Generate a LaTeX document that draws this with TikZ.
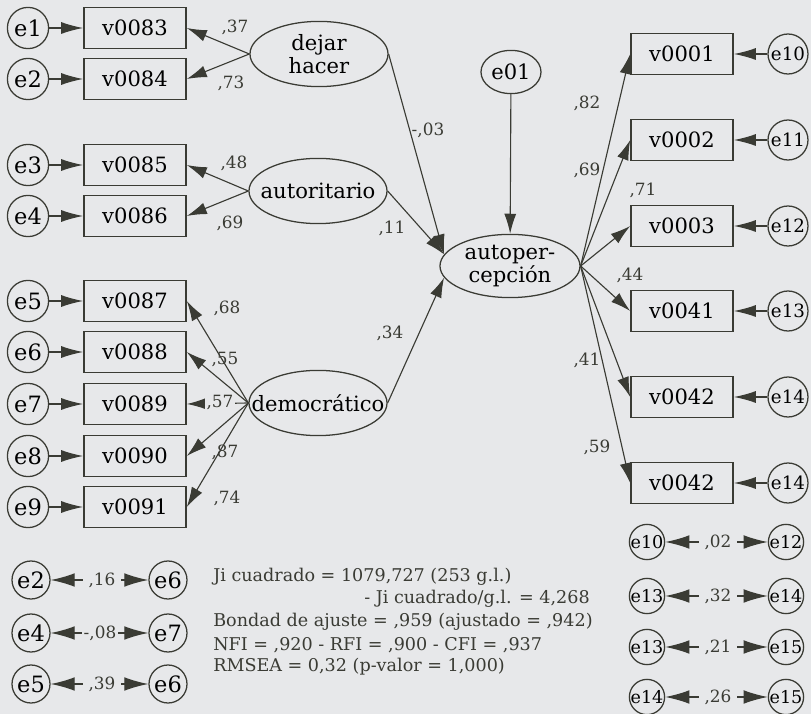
\documentclass[tikz,border=0pt]{standalone}
\usepackage{fontspec}
\setmainfont{DejaVu Serif}
\usetikzlibrary{shapes.geometric, arrows.meta, positioning}
\definecolor{cBg}{RGB}{231,232,234}
\definecolor{cInk}{RGB}{58,59,52}
\tikzset{
	obs/.style    ={rectangle, draw=cInk, line width=1.1pt, minimum width=2.55cm, minimum height=1.03cm, inner sep=0pt, font=\fontsize{15}{16}\selectfont},
	err/.style    ={circle, draw=cInk, line width=0.9pt, minimum size=1.03cm, inner sep=0pt, font=\fontsize{16}{17}\selectfont},
	errr/.style   ={circle, draw=cInk, line width=0.9pt, minimum size=1.0cm, inner sep=0pt, font=\fontsize{13}{14}\selectfont},
	errs/.style   ={circle, draw=cInk, line width=0.9pt, minimum size=0.88cm, inner sep=0pt, font=\fontsize{12.5}{13}\selectfont},
	lat/.style    ={ellipse, draw=cInk, line width=0.9pt, minimum width=3.45cm, minimum height=1.63cm, inner xsep=-1cm, inner ysep=-0.4cm, align=center, font=\fontsize{15}{16}\selectfont},
	coef/.style   ={font=\fontsize{12}{13}\selectfont, text=cInk, inner sep=1pt},
	reg/.style    ={-{Latex[length=5mm,width=3mm]}, draw=cInk, line width=0.8pt},
	errarr/.style ={-{Latex[length=5.5mm,width=3mm]}, draw=cInk, line width=0.9pt},
	covar/.style  ={{Latex[length=6mm,width=3.4mm]}-{Latex[length=6mm,width=3.4mm]}, draw=cInk, line width=0.9pt},
	stat/.style   ={font=\fontsize{12.5}{15}\selectfont, text=cInk, inner sep=0pt},
}
\begin{document}
\begin{tikzpicture}[x=0.025cm, y=-0.025cm]
	\fill[cBg] (0,0) rectangle (811,714);
	\useasboundingbox (0,0) rectangle (811,714);
	% left indicators
	\node[err] (e1) at (28,28) {e1};
	\node[obs] (v83) at (135,28) {v0083};
	\node[err] (e2) at (28,79) {e2};
	\node[obs] (v84) at (135,79) {v0084};
	\node[err] (e3) at (28,165) {e3};
	\node[obs] (v85) at (135,165) {v0085};
	\node[err] (e4) at (28,216) {e4};
	\node[obs] (v86) at (135,216) {v0086};
	\node[err] (e5) at (28,301) {e5};
	\node[obs] (v87) at (135,301) {v0087};
	\node[err] (e6) at (28,352) {e6};
	\node[obs] (v88) at (135,352) {v0088};
	\node[err] (e7) at (28,404) {e7};
	\node[obs] (v89) at (135,404) {v0089};
	\node[err] (e8) at (28,456) {e8};
	\node[obs] (v90) at (135,456) {v0090};
	\node[err] (e9) at (28,507) {e9};
	\node[obs] (v91) at (135,507) {v0091};
	% latent variables
	\node[lat] (dejar) at (319,54) {dejar\\ hacer};
	\node[lat] (autor) at (318,191) {autoritario};
	\node[lat] (democ) at (318,403) {democrático};
	\node[lat, minimum width=3.5cm, minimum height=1.58cm] (autop) at (510,266) {autoper-\\ cepción};
	\node[lat, minimum width=1.5cm, minimum height=1.08cm] (e01) at (511,72) {e01};
	% right indicators
	\node[obs] (v01) at (682,54) {v0001};
	\node[errr] (e10) at (788,54) {e10};
	\node[obs] (v02) at (682,140) {v0002};
	\node[errr] (e11) at (788,140) {e11};
	\node[obs] (v03) at (682,226) {v0003};
	\node[errr] (e12) at (788,226) {e12};
	\node[obs] (v41) at (682,311) {v0041};
	\node[errr] (e13) at (788,311) {e13};
	\node[obs] (v42) at (682,397) {v0042};
	\node[errr] (e14) at (788,397) {e14};
	\node[obs] (v42b) at (682,483) {v0042};
	\node[errr] (e14b) at (788,483) {e14};
	% errors -> indicators
	\draw[errarr] (e1) -- (v83);
	\draw[errarr] (e2) -- (v84);
	\draw[errarr] (e3) -- (v85);
	\draw[errarr] (e4) -- (v86);
	\draw[errarr] (e5) -- (v87);
	\draw[errarr] (e6) -- (v88);
	\draw[errarr] (e7) -- (v89);
	\draw[errarr] (e8) -- (v90);
	\draw[errarr] (e9) -- (v91);
	\draw[errarr] (e10) -- (v01);
	\draw[errarr] (e11) -- (v02);
	\draw[errarr] (e12) -- (v03);
	\draw[errarr] (e13) -- (v41);
	\draw[errarr] (e14) -- (v42);
	\draw[errarr] (e14b) -- (v42b);
	% loadings
	\draw[reg] (dejar.west) -- (v83.east);
	\draw[reg] (dejar.west) -- (v84.east);
	\draw[reg] (autor.west) -- (v85.east);
	\draw[reg] (autor.west) -- (v86.east);
	\draw[reg] (democ.west) -- (v87.east);
	\draw[reg] (democ.west) -- (v88.east);
	\draw[reg] (democ.west) -- (v89.east);
	\draw[reg] (democ.west) -- (v90.east);
	\draw[reg] (democ.west) -- (v91.east);
	\draw[reg] (autop.east) -- (v01.west);
	\draw[reg] (autop.east) -- (v02.west);
	\draw[reg] (autop.east) -- (v03.west);
	\draw[reg] (autop.east) -- (v41.west);
	\draw[reg] (autop.east) -- (v42.west);
	\draw[reg] (autop.east) -- (v42b.west);
	% structural paths
	\draw[reg] (dejar.east) -- (autop.170);
	\draw[reg] (autor.east) -- (autop.170);
	\draw[reg] (democ.east) -- (autop.190);
	\draw[reg] (e01) -- (autop);
	% coefficients
	\node[coef] (c83) at (235,27) {,37};
	\node[coef] (c84) at (231,83) {,73};
	\node[coef] (c85) at (234,163) {,48};
	\node[coef] (c86) at (230,223) {,69};
	\node[coef] (c87) at (227,308) {,68};
	\node[coef] (c88) at (225,360) {,55};
	\node[coef, fill=cBg] (c89) at (220,403) {,57};
	\node[coef] (c90) at (225,452) {,87};
	\node[coef] (c91) at (227,498) {,74};
	\node[coef] (cdej) at (428,130) {-,03};
	\node[coef] (caut) at (392,228) {,11};
	\node[coef] (cdem) at (390,333) {,34};
	\node[coef] (c01) at (587,103) {,82};
	\node[coef] (c02) at (587,170) {,69};
	\node[coef] (c03) at (643,190) {,71};
	\node[coef] (c41) at (630,275) {,44};
	\node[coef] (c42) at (587,360) {,41};
	\node[coef] (c42b) at (597,447) {,59};
	% correlated errors
	\node[err, minimum size=0.95cm] (ce2) at (31,580) {e2};
	\node[err, minimum size=0.95cm] (ce6) at (168,580) {e6};
	\node[err, minimum size=0.95cm] (ce4) at (31,633) {e4};
	\node[err, minimum size=0.95cm] (ce7) at (168,633) {e7};
	\node[err, minimum size=0.95cm] (ce5) at (31,684) {e5};
	\node[err, minimum size=0.95cm] (ce6b) at (168,684) {e6};
	\draw[covar] (ce2) -- (ce6);
	\draw[covar] (ce4) -- (ce7);
	\draw[covar] (ce5) -- (ce6b);
	\node[coef, fill=cBg, inner xsep=4pt] (r26) at (102,580) {,16};
	\node[coef, fill=cBg, inner xsep=1.5pt] (r47) at (100,633) {-,08};
	\node[coef, fill=cBg, inner xsep=4pt] (r56) at (102,684) {,39};
	\node[errs] (ce10) at (647,542) {e10};
	\node[errs] (ce12) at (786,542) {e12};
	\node[errs] (ce13) at (647,596) {e13};
	\node[errs] (ce14) at (786,596) {e14};
	\node[errs] (ce13b) at (647,647) {e13};
	\node[errs] (ce15) at (786,647) {e15};
	\node[errs] (ce14b) at (647,697) {e14};
	\node[errs] (ce15b) at (786,697) {e15};
	\draw[covar] (ce10) -- (ce12);
	\draw[covar] (ce13) -- (ce14);
	\draw[covar] (ce13b) -- (ce15);
	\draw[covar] (ce14b) -- (ce15b);
	\node[coef, fill=cBg, inner xsep=4pt] (r1012) at (718,542) {,02};
	\node[coef, fill=cBg, inner xsep=4pt] (r1314) at (718,596) {,32};
	\node[coef, fill=cBg, inner xsep=4pt] (r1315) at (718,647) {,21};
	\node[coef, fill=cBg, inner xsep=4pt] (r1415) at (718,697) {,26};
	% fit indices
	\node[stat, anchor=west] (chi) at (213,577) {Ji cuadrado = 1079,727 (253 g.l.)};
	\node[stat, anchor=east] (chidf) at (590,599) {- Ji cuadrado/g.l. = 4,268};
	\node[stat, anchor=west] (gfi) at (213,622) {Bondad de ajuste = ,959 (ajustado = ,942)};
	\node[stat, anchor=west] (nfi) at (213,645) {NFI = ,920 - RFI = ,900 - CFI = ,937};
	\node[stat, anchor=west] (rmsea) at (213,667) {RMSEA = 0,32 (p-valor = 1,000)};
\end{tikzpicture}
\end{document}
